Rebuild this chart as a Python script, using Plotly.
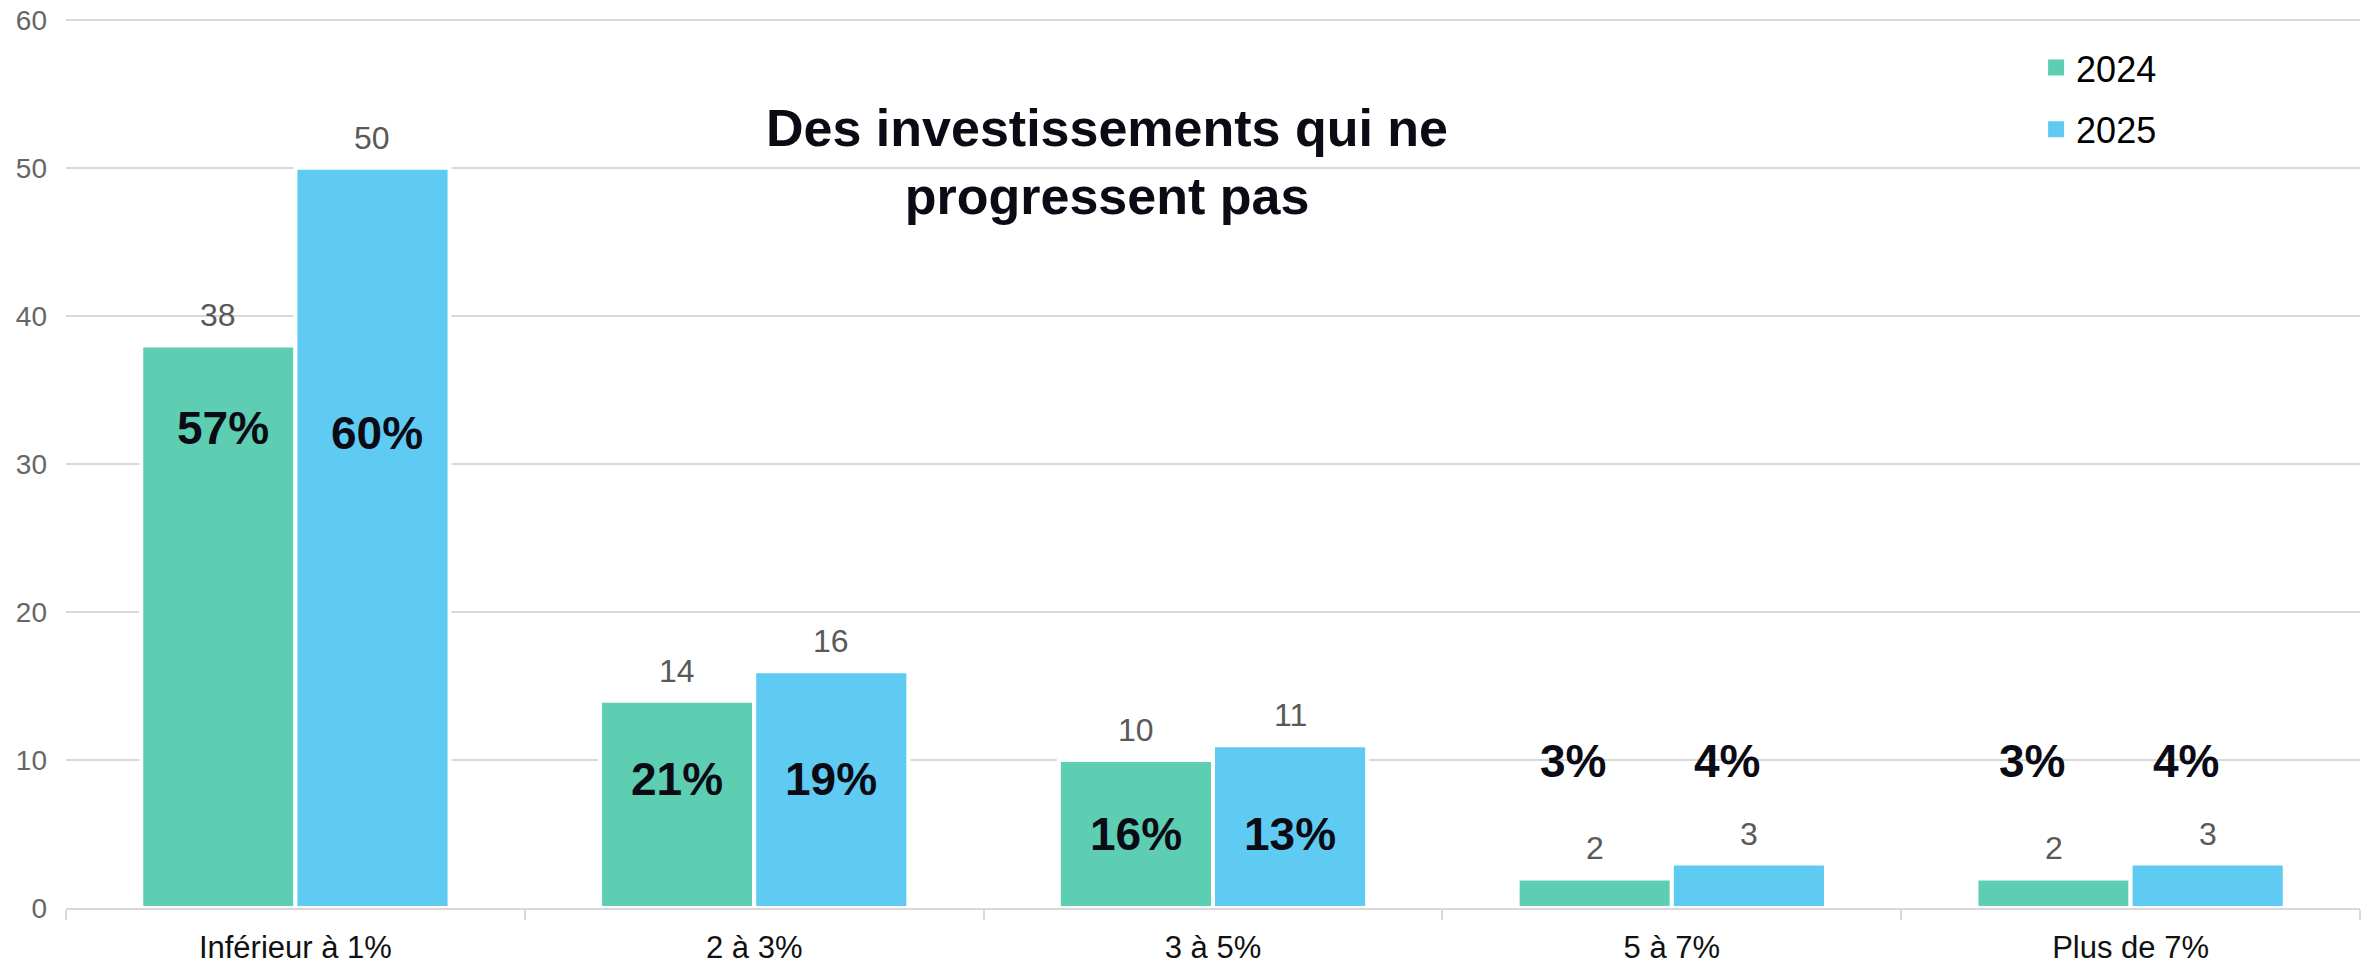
import plotly.graph_objects as go

categories = ["Inférieur à 1%", "2 à 3%", "3 à 5%", "5 à 7%", "Plus de 7%"]
values_2024 = [38, 14, 10, 2, 2]
values_2025 = [50, 16, 11, 3, 3]
share_2024 = ["57%", "21%", "16%", "3%", "3%"]
share_2025 = ["60%", "19%", "13%", "4%", "4%"]
y_ticks = [0, 10, 20, 30, 40, 50, 60]

# label placement (layout, not data)
share_label_y_2024 = [32.4, 8.7, 5.0, 9.9, 9.9]
share_label_y_2025 = [32.1, 8.7, 5.0, 9.9, 9.9]
share_label_xshift = [5, 0, 0, -22, -22]

GREEN = "#5ECEB2"
BLUE = "#60CBF2"
FONT = "Liberation Sans, Arial, sans-serif"

BARGAP = 0.328
half_offset = (1 - BARGAP) / 4

fig = go.Figure()
fig.add_trace(go.Bar(x=categories, y=values_2024, name="2024", marker=dict(color=GREEN, line=dict(color="white", width=4)), showlegend=False, hoverinfo="skip"))
fig.add_trace(go.Bar(x=categories, y=values_2025, name="2025", marker=dict(color=BLUE, line=dict(color="white", width=4)), showlegend=False, hoverinfo="skip"))
# legend-only entries
fig.add_trace(go.Scatter(x=[None], y=[None], mode="markers", name="2024", legendgroup="a", marker=dict(symbol="square", size=16, color=GREEN)))
fig.add_trace(go.Scatter(x=[None], y=[None], mode="markers", name="2025", legendgroup="b", marker=dict(symbol="square", size=16, color=BLUE)))

annotations = []
for i in range(len(categories)):
    for vals, shares, ly, sign in ((values_2024, share_2024, share_label_y_2024, -1),
                                   (values_2025, share_2025, share_label_y_2025, 1)):
        xpos = i + sign * half_offset
        annotations.append(dict(x=xpos, y=vals[i], xref="x", yref="y", text=str(vals[i]), showarrow=False,
                                yanchor="middle", yshift=30, font=dict(family=FONT, size=32, color="#595959")))
        annotations.append(dict(x=xpos, y=ly[i], xref="x", yref="y", text="<b>%s</b>" % shares[i], showarrow=False,
                                xshift=share_label_xshift[i], yanchor="middle",
                                font=dict(family=FONT, size=46, color="#0b0b16")))

annotations.append(dict(x=0.454, y=0.838, xref="paper", yref="paper", showarrow=False,
                        text="<b>Des investissements qui ne<br>progressent pas</b>",
                        font=dict(family=FONT, size=52, color="#0b0b16"), align="center",
                        xanchor="center", yanchor="middle"))

# page body adds an 8px offset, so the figure is 8px smaller and margins shifted
fig.update_layout(
    width=2364, height=956,
    margin=dict(l=58, r=12, t=10, b=56, autoexpand=False),
    paper_bgcolor="white", plot_bgcolor="white",
    barmode="group", bargap=BARGAP, bargroupgap=0,
    font=dict(family=FONT),
    annotations=annotations,
    legend=dict(x=0.8588, y=0.978, xanchor="left", yanchor="top", traceorder="grouped", tracegroupgap=12,
                font=dict(family=FONT, size=36, color="#000000"), bgcolor="rgba(0,0,0,0)"),
)
# range slightly above 60 so the top gridline is not clipped at the plot edge
fig.update_yaxes(range=[0, 60.12], tickvals=y_ticks, showgrid=True, gridcolor="#D9D9D9", gridwidth=2,
                 zeroline=False, showline=False, ticks="", ticklabelstandoff=18, automargin=False,
                 ticklabeloverflow="allow",
                 tickfont=dict(family=FONT, size=28, color="#666666"))
fig.update_xaxes(type="category", showline=True, linecolor="#D9D9D9", linewidth=2, ticks="outside",
                 tickson="boundaries", ticklen=10, tickcolor="#D9D9D9", tickwidth=2, showgrid=False,
                 automargin=False, ticklabeloverflow="allow",
                 tickfont=dict(family=FONT, size=31, color="#111111"), ticklabelstandoff=11)

fig.write_html("out.html")
